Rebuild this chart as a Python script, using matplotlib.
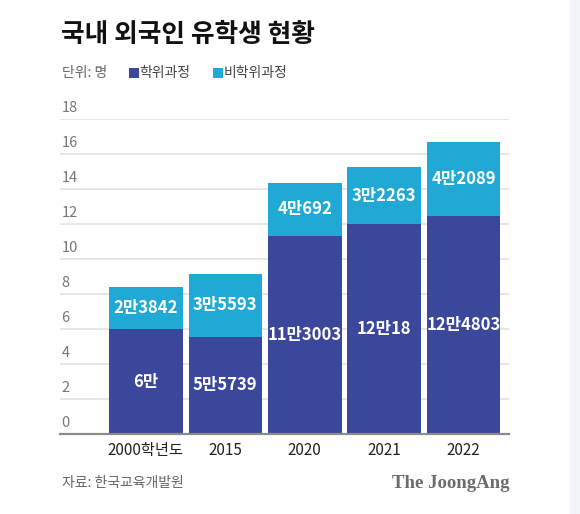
import matplotlib
matplotlib.use("Agg")
import matplotlib.pyplot as plt
from matplotlib.patches import Rectangle

plt.rcParams['font.family'] = ['Noto Sans CJK KR', 'DejaVu Sans']

years = ["2000학년도", "2015", "2020", "2021", "2022"]
# bar heights in units of 10,000 (만), as drawn
degree = [6.0, 5.57, 11.3, 12.0, 12.48]
nondegree = [2.38, 3.56, 3.07, 3.23, 4.21]
degree_labels = ["6만", "5만5739", "11만3003", "12만18", "12만4803"]
nondegree_labels = ["2만3842", "3만5593", "4만692", "3만2263", "4만2089"]
yticks = [0, 2, 4, 6, 8, 10, 12, 14, 16, 18]

c_dark = "#3a479b"
c_light = "#21a9d6"

W, H = 580, 514
fig = plt.figure(figsize=(W/100, H/100), dpi=100)
fig.patch.set_facecolor("white")

# light grey strip on the right edge
fig.patches.append(Rectangle((570/W, 0), 10/W, 1, transform=fig.transFigure,
                             facecolor="#f3f4f8", edgecolor="none", zorder=0))

ax = fig.add_axes([60/W, 1-434/H, (509-60)/W, (434-119)/H])
x = list(range(len(years)))
ax.bar(x, degree, width=0.925, color=c_dark, zorder=3)
ax.bar(x, nondegree, width=0.925, bottom=degree, color=c_light, zorder=3)

ax.set_xlim(-1.08, 4.57)
ax.set_ylim(0, 18)
ax.set_yticks(yticks)
ax.set_yticklabels([])
ax.tick_params(axis="y", length=0)
ax.yaxis.grid(True, color="#e2e2e2", lw=1.2, zorder=0)
ax.set_axisbelow(True)
for s in ["top", "right", "left"]:
    ax.spines[s].set_visible(False)
ax.spines["bottom"].set_color("#8a8a8a")
ax.spines["bottom"].set_linewidth(1.6)
ax.spines["bottom"].set_zorder(4)

for t in yticks:
    ax.annotate(str(t), (0.003, t), xycoords=("axes fraction", "data"),
                xytext=(0, 3), textcoords="offset points",
                ha="left", va="bottom", fontsize=10.5, color="#777777",
                annotation_clip=False)

ax.set_xticks(x)
ax.set_xticklabels(years, fontsize=11, color="#222222")
ax.tick_params(axis="x", length=0, pad=6)

for i in x:
    ax.text(i, degree[i]/2, degree_labels[i], ha="center", va="center",
            color="white", fontsize=12, fontweight="bold", zorder=5)
    ax.text(i, degree[i] + nondegree[i]/2, nondegree_labels[i], ha="center",
            va="center", color="white", fontsize=12, fontweight="bold", zorder=5)

fig.text(61/W, 1-35/H, "국내 외국인 유학생 현황", fontsize=18.5,
         fontweight="heavy", color="#111111", va="center", ha="left")

ly = 1-73/H
fig.text(62/W, ly, "단위: 명", fontsize=10, color="#666666", va="center")
fig.patches.append(Rectangle((129/W, 1-78/H), 10/W, 10/H, transform=fig.transFigure,
                             facecolor=c_dark, edgecolor="none"))
fig.text(139/W, ly, "학위과정", fontsize=10, color="#444444", va="center")
fig.patches.append(Rectangle((213/W, 1-78/H), 10/W, 10/H, transform=fig.transFigure,
                             facecolor=c_light, edgecolor="none"))
fig.text(224/W, ly, "비학위과정", fontsize=10, color="#444444", va="center")

fig.text(62/W, 1-483/H, "자료: 한국교육개발원", fontsize=10, color="#666666", va="center")
fig.text(509/W, 1-483/H, "The JoongAng", fontsize=13.5, color="#6b6b6b",
         family="Liberation Serif", fontweight="bold", ha="right", va="center")

fig.savefig("out.png", dpi=100)
